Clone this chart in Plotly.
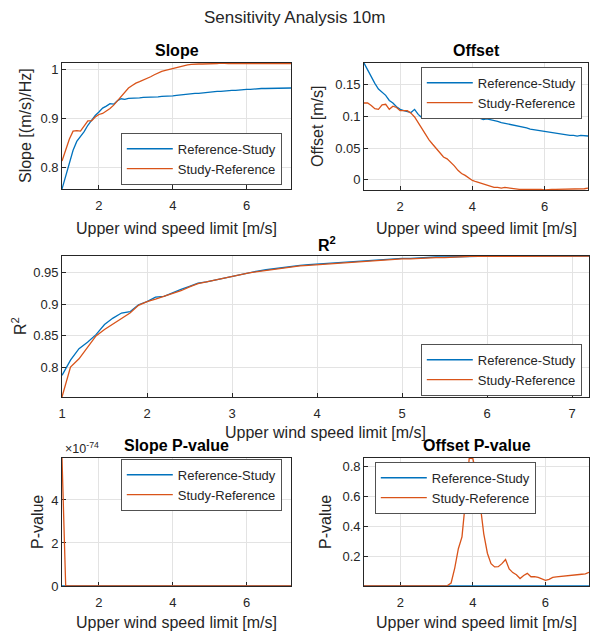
import plotly.graph_objects as go

# ---------------- data ----------------
upper_limit = [1.0, 1.1, 1.2, 1.3, 1.4, 1.5, 1.6, 1.7, 1.8, 1.9,
               2.0, 2.1, 2.2, 2.3, 2.4, 2.5, 2.6, 2.7, 2.8, 2.9,
               3.0, 3.1, 3.2, 3.3, 3.4, 3.5, 3.6, 3.7, 3.8, 3.9,
               4.0, 4.1, 4.2, 4.3, 4.4, 4.5, 4.6, 4.7, 4.8, 4.9,
               5.0, 5.1, 5.2, 5.3, 5.4, 5.5, 5.6, 5.7, 5.8, 5.9,
               6.0, 6.1, 6.2, 6.3, 6.4, 6.5, 6.6, 6.7, 6.8, 6.9,
               7.0, 7.1, 7.2]

slope_ref_study = [0.756, 0.783, 0.809, 0.835, 0.853, 0.862, 0.873, 0.886, 0.897, 0.906,
                   0.913, 0.921, 0.925, 0.930, 0.929, 0.936, 0.940, 0.939, 0.941, 0.941,
                   0.942, 0.942, 0.943, 0.943, 0.943, 0.944, 0.944, 0.945, 0.945, 0.946,
                   0.946, 0.947, 0.948, 0.949, 0.949, 0.950, 0.951, 0.951, 0.952, 0.953,
                   0.953, 0.954, 0.955, 0.955, 0.956, 0.956, 0.957, 0.957, 0.958, 0.958,
                   0.959, 0.959, 0.960, 0.960, 0.961, 0.961, 0.961, 0.962, 0.962, 0.962,
                   0.962, 0.962, 0.962]
slope_study_ref = [0.813, 0.835, 0.858, 0.874, 0.875, 0.874, 0.884, 0.895, 0.895, 0.903,
                   0.908, 0.910, 0.915, 0.920, 0.927, 0.936, 0.946, 0.955, 0.962, 0.967,
                   0.972, 0.975, 0.978, 0.982, 0.985, 0.989, 0.993, 0.996, 0.998, 1.000,
                   1.002, 1.004, 1.006, 1.007, 1.009, 1.010, 1.011, 1.011, 1.011, 1.011,
                   1.011, 1.012, 1.012, 1.013, 1.012, 1.012, 1.012, 1.012, 1.013, 1.013,
                   1.013, 1.013, 1.012, 1.012, 1.012, 1.012, 1.012, 1.012, 1.012, 1.012,
                   1.012, 1.012, 1.012]

offset_ref_study = [0.184, 0.173, 0.164, 0.152, 0.143, 0.138, 0.133, 0.125, 0.121, 0.115,
                    0.111, 0.109, 0.108, 0.106, 0.111, 0.103, 0.098, 0.102, 0.101, 0.102,
                    0.101, 0.102, 0.101, 0.102, 0.101, 0.103, 0.101, 0.101, 0.100, 0.099,
                    0.099, 0.098, 0.097, 0.095, 0.096, 0.095, 0.093, 0.092, 0.090, 0.089,
                    0.088, 0.086, 0.085, 0.084, 0.083, 0.082, 0.080, 0.079, 0.078, 0.077,
                    0.076, 0.075, 0.074, 0.073, 0.072, 0.071, 0.070, 0.070, 0.070, 0.069,
                    0.070, 0.069, 0.069]
offset_study_ref = [0.121, 0.121, 0.117, 0.112, 0.111, 0.118, 0.119, 0.111, 0.116, 0.114,
                    0.109, 0.109, 0.109, 0.105, 0.099, 0.090, 0.081, 0.071, 0.063, 0.056,
                    0.049, 0.042, 0.036, 0.033, 0.028, 0.022, 0.015, 0.010, 0.007, 0.003,
                    -0.001, -0.003, -0.005, -0.007, -0.009, -0.011, -0.012, -0.012, -0.013, -0.012,
                    -0.013, -0.014, -0.014, -0.015, -0.015, -0.015, -0.014, -0.015, -0.015, -0.015,
                    -0.016, -0.015, -0.015, -0.015, -0.015, -0.014, -0.014, -0.014, -0.014, -0.014,
                    -0.014, -0.014, -0.013]

r2_ref_study = [0.788, 0.812, 0.830, 0.840, 0.852, 0.868, 0.878, 0.886, 0.888, 0.899,
                0.904, 0.911, 0.912, 0.918, 0.923, 0.928, 0.933, 0.935, 0.938, 0.941,
                0.944, 0.947, 0.950, 0.952, 0.954, 0.956, 0.958, 0.959, 0.961, 0.962,
                0.963, 0.964, 0.965, 0.966, 0.967, 0.968, 0.969, 0.970, 0.970, 0.971,
                0.972, 0.972, 0.973, 0.973, 0.974, 0.974, 0.974, 0.975, 0.975, 0.975,
                0.9755, 0.9755, 0.9756, 0.9756, 0.9756, 0.9756, 0.9756, 0.9756, 0.9756, 0.9756,
                0.9756, 0.9756, 0.9756]
r2_study_ref = [0.754, 0.801, 0.814, 0.832, 0.850, 0.860, 0.869, 0.878, 0.886, 0.898,
                0.904, 0.908, 0.912, 0.916, 0.921, 0.927, 0.932, 0.935, 0.938, 0.941,
                0.944, 0.947, 0.949, 0.951, 0.953, 0.955, 0.957, 0.958, 0.960, 0.961,
                0.962, 0.963, 0.964, 0.965, 0.966, 0.967, 0.968, 0.969, 0.969, 0.970,
                0.971, 0.971, 0.972, 0.972, 0.973, 0.973, 0.974, 0.974, 0.975, 0.975,
                0.975, 0.9752, 0.9753, 0.9754, 0.9755, 0.9755, 0.9756, 0.9756, 0.9756, 0.9756,
                0.9756, 0.9756, 0.9756]

slope_p_ref_study = [0.0, 0.0, 0.0, 0.0, 0.0, 0.0, 0.0, 0.0, 0.0, 0.0,
                     0.0, 0.0, 0.0, 0.0, 0.0, 0.0, 0.0, 0.0, 0.0, 0.0,
                     0.0, 0.0, 0.0, 0.0, 0.0, 0.0, 0.0, 0.0, 0.0, 0.0,
                     0.0, 0.0, 0.0, 0.0, 0.0, 0.0, 0.0, 0.0, 0.0, 0.0,
                     0.0, 0.0, 0.0, 0.0, 0.0, 0.0, 0.0, 0.0, 0.0, 0.0,
                     0.0, 0.0, 0.0, 0.0, 0.0, 0.0, 0.0, 0.0, 0.0, 0.0,
                     0.0, 0.0, 0.0]
slope_p_study_ref = [5.95e-74, 0.0, 0.0, 0.0, 0.0, 0.0, 0.0, 0.0, 0.0, 0.0,
                     0.0, 0.0, 0.0, 0.0, 0.0, 0.0, 0.0, 0.0, 0.0, 0.0,
                     0.0, 0.0, 0.0, 0.0, 0.0, 0.0, 0.0, 0.0, 0.0, 0.0,
                     0.0, 0.0, 0.0, 0.0, 0.0, 0.0, 0.0, 0.0, 0.0, 0.0,
                     0.0, 0.0, 0.0, 0.0, 0.0, 0.0, 0.0, 0.0, 0.0, 0.0,
                     0.0, 0.0, 0.0, 0.0, 0.0, 0.0, 0.0, 0.0, 0.0, 0.0,
                     0.0, 0.0, 0.0]

offset_p_ref_study = [0.0, 0.0, 0.0, 0.0, 0.0, 0.0, 0.0, 0.0, 0.0, 0.0,
                      0.0, 0.0, 0.0, 0.0, 0.0, 0.0, 0.0, 0.0, 0.0, 0.0,
                      0.0, 0.0, 0.0, 0.0, 0.0, 0.0, 0.0, 0.0, 0.0, 0.0,
                      0.0, 0.0, 0.0, 0.0, 0.0, 0.0, 0.0, 0.0, 0.0, 0.0,
                      0.0, 0.0, 0.0, 0.0, 0.0, 0.0, 0.0, 0.0, 0.0, 0.0,
                      0.0, 0.0, 0.0, 0.0, 0.0, 0.0, 0.0, 0.0, 0.0, 0.0,
                      0.0, 0.0, 0.0]
offset_p_study_ref = [0.0, 0.0, 0.0, 0.0, 0.0, 0.0, 0.0, 0.0, 0.0, 0.0,
                      0.0, 0.0, 0.0, 0.0, 0.0, 0.0, 0.0, 0.0, 0.0, 0.0,
                      0.0, 0.0, 0.0005, 0.003, 0.02, 0.12, 0.25, 0.33, 0.58, 0.859,
                      0.855, 0.74, 0.55, 0.35, 0.22, 0.15, 0.128, 0.13, 0.15, 0.178,
                      0.115, 0.09, 0.075, 0.05, 0.07, 0.085, 0.062, 0.063, 0.058, 0.05,
                      0.038, 0.045, 0.058, 0.061, 0.063, 0.065, 0.066, 0.068, 0.070, 0.074,
                      0.079, 0.082, 0.092]

series_names = ["Reference-Study", "Study-Reference"]
x_ticks_small = [2, 4, 6]
x_ticks_r2 = [1, 2, 3, 4, 5, 6, 7]

# ---------------- styling ----------------
W, H = 592, 634
BLUE = "#0072BD"
ORANGE = "#D95319"
AX = "#262626"
GRID = "#E3E3E3"
FONT = "Liberation Sans, Arial, sans-serif"


def fx(p):
    return p / W


def fy(p):
    return 1 - p / H


fig = go.Figure()

panels = [
    ("x", "y", slope_ref_study, slope_study_ref, "legend"),
    ("x2", "y2", offset_ref_study, offset_study_ref, "legend2"),
    ("x3", "y3", r2_ref_study, r2_study_ref, "legend3"),
    ("x4", "y4", slope_p_ref_study, slope_p_study_ref, "legend4"),
    ("x5", "y5", offset_p_ref_study, offset_p_study_ref, "legend5"),
]
for xa, ya, a, b, lg in panels:
    fig.add_trace(go.Scatter(x=upper_limit, y=a, name=series_names[0], mode="lines",
                             line=dict(color=BLUE, width=1.3), xaxis=xa, yaxis=ya,
                             legend=lg))
    fig.add_trace(go.Scatter(x=upper_limit, y=b, name=series_names[1], mode="lines",
                             line=dict(color=ORANGE, width=1.3), xaxis=xa, yaxis=ya,
                             legend=lg))

common = dict(showline=True, linecolor=AX, linewidth=0.8, mirror=True,
              ticks="inside", ticklen=4, tickcolor=AX, tickwidth=0.8,
              showgrid=True, gridcolor=GRID, gridwidth=1, zeroline=False,
              tickfont=dict(family=FONT, size=13, color=AX), automargin=False)
xcommon = dict(common, ticklabelstandoff=4)
below = dict(layer="below traces")

boxes = {
    1: (62, 291, 63, 189),
    2: (364, 588, 63, 190),
    3: (62, 589, 256, 397),
    4: (62, 291, 458, 586),
    5: (364, 589, 458, 586),
}


def xdom(i):
    l, r, t, b = boxes[i]
    return [fx(l), fx(r)]


def ydom(i):
    l, r, t, b = boxes[i]
    return [fy(b), fy(t)]


layout = dict(
    width=W, height=H, margin=dict(l=0, r=0, t=0, b=0),
    paper_bgcolor="white", plot_bgcolor="white",
    font=dict(family=FONT, color=AX),
    xaxis=dict(xcommon, domain=xdom(1), anchor="y", range=[1, 7.2], tickvals=x_ticks_small),
    yaxis=dict(common, domain=ydom(1), anchor="x", range=[0.756, 1.013],
               tickvals=[0.8, 0.9, 1.0], ticktext=["0.8", "0.9", "1"]),
    xaxis2=dict(xcommon, domain=xdom(2), anchor="y2", range=[1, 7.2], tickvals=x_ticks_small),
    yaxis2=dict(common, domain=ydom(2), anchor="x2", range=[-0.016, 0.184],
                tickvals=[0, 0.05, 0.1, 0.15], ticktext=["0", "0.05", "0.1", "0.15"]),
    xaxis3=dict(xcommon, domain=xdom(3), anchor="y3", range=[1, 7.2], tickvals=x_ticks_r2),
    yaxis3=dict(common, domain=ydom(3), anchor="x3", range=[0.754, 0.9756],
                tickvals=[0.8, 0.85, 0.9, 0.95], ticktext=["0.8", "0.85", "0.9", "0.95"]),
    xaxis4=dict(xcommon, **below, domain=xdom(4), anchor="y4", range=[1, 7.2], tickvals=x_ticks_small),
    yaxis4=dict(common, **below, domain=ydom(4), anchor="x4", range=[0, 5.95e-74],
                tickvals=[0, 2e-74, 4e-74], ticktext=["0", "2", "4"]),
    xaxis5=dict(xcommon, **below, domain=xdom(5), anchor="y5", range=[1, 7.2], tickvals=x_ticks_small),
    yaxis5=dict(common, **below, domain=ydom(5), anchor="x5", range=[0, 0.859],
                tickvals=[0.2, 0.4, 0.6, 0.8], ticktext=["0.2", "0.4", "0.6", "0.8"]),
    showlegend=True,
)

# (left, vertical centre) of each legend box in pixels
leg_pos = {
    "legend": (121, 159),
    "legend2": (421, 93),
    "legend3": (421, 370),
    "legend4": (121, 485),
    "legend5": (375, 488),
}
for k, (lx, cy) in leg_pos.items():
    layout[k] = dict(x=fx(lx), y=fy(cy), xanchor="left", yanchor="middle",
                     bgcolor="white", bordercolor=AX, borderwidth=0.8,
                     font=dict(family=FONT, size=13, color=AX),
                     itemwidth=46, tracegroupgap=0, traceorder="normal")

fig.update_layout(**layout)

ann = []


def text(x, y, s, size, bold=False, angle=0, xanchor="center"):
    ann.append(dict(x=fx(x), y=fy(y), xref="paper", yref="paper", text=(f"<b>{s}</b>" if bold else s),
                    showarrow=False, xanchor=xanchor, yanchor="middle", textangle=angle,
                    font=dict(family=FONT, size=size, color="#000000" if bold else AX)))


text(294, 17, "Sensitivity Analysis 10m", 17)
text(176.5, 51, "Slope", 16, bold=True)
text(476, 51, "Offset", 16, bold=True)
text(327, 244, "R<sup>2</sup>", 16, bold=True)
text(176.5, 445, "Slope P-value", 16, bold=True)
text(476.5, 445, "Offset P-value", 16, bold=True)
XL = "Upper wind speed limit [m/s]"
text(176.5, 228, XL, 16)
text(476, 228, XL, 16)
text(325.5, 432, XL, 16)
text(176.5, 622, XL, 16)
text(476.5, 622, XL, 16)
text(26, 126, "Slope [(m/s)/Hz]", 16, angle=-90)
text(318, 126, "Offset [m/s]", 16, angle=-90)
text(19, 326, "R<sup>2</sup>", 16, angle=-90)
text(37, 522, "P-value", 16, angle=-90)
text(325, 522, "P-value", 16, angle=-90)
text(63, 448, "×10<sup>-74</sup>", 12.5, xanchor="left")

fig.update_layout(annotations=ann)

fig.write_html("out.html", config={"displayModeBar": False},
               post_script="document.body.style.margin='0';document.body.style.overflow='hidden';")
